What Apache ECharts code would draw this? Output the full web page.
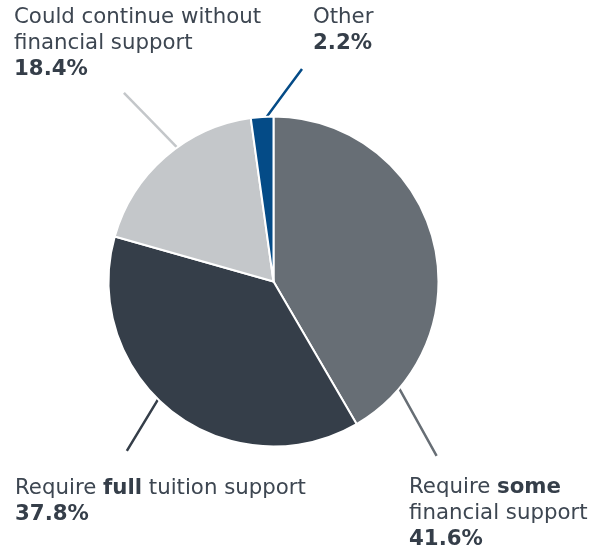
<!DOCTYPE html>
<html>
<head>
<meta charset="utf-8">
<script src="https://cdn.jsdelivr.net/npm/echarts@6/dist/echarts.min.js"></script>
<style>html,body{margin:0;padding:0;background:#fff}#c{width:601px;height:547px}</style>
</head>
<body>
<div id="c"></div>
<script>
// Data
var categories = ['Require some financial support', 'Require full tuition support', 'Could continue without financial support', 'Other'];
var values = [41.6, 37.8, 18.4, 2.2];
var labelLines1 = [['{n|Require }{b|some}', '{n|financial support}'], ['{n|Require }{b|full}{n| tuition support}'], ['{n|Could continue without}', '{n|financial support}'], ['{n|Other}']];
var colors = ['#676e75', '#353e49', '#c4c7ca', '#044b87'];

// Layout (positions / styles)
var CX = 273.5, CY = 281.5, R = 165;
var labelPos = [[409, 474.5], [15, 475.5], [14, 4.5], [313, 4.5]];
var leader = [[130.4, R, 136.9, 238.7], [224.4, R, 220.9, 224], [-35.7, R, -38.4, 240.8], [-2.35, R, 7.64, 214.4]];

function pt(a, r) {
  var t = a * Math.PI / 180;
  return [CX + r * Math.sin(t), CY - r * Math.cos(t)];
}

var chart = echarts.init(document.getElementById('c'), null, {renderer: 'canvas'});
var data = categories.map(function (c, i) {
  return {
    name: c,
    value: values[i],
    itemStyle: {color: colors[i]},
    labelLine: {lineStyle: {color: colors[i]}}
  };
});

chart.setOption({
  animation: false,
  series: [{
    type: 'pie',
    center: [CX, CY],
    radius: [0, R],
    startAngle: 90,
    clockwise: true,
    avoidLabelOverlap: false,
    itemStyle: {borderColor: '#fff', borderWidth: 2},
    label: {
      show: true,
      position: 'outside',
      formatter: function (p) {
        var i = p.dataIndex;
        return labelLines1[i].join('\n') + '\n{b|' + values[i].toFixed(1) + '%}';
      },
      rich: {
        n: {fontFamily: 'DejaVu Sans', fontSize: 21.3, color: '#3d4651', lineHeight: 26},
        b: {fontFamily: 'DejaVu Sans', fontSize: 21.3, fontWeight: 'bold', color: '#353e49', lineHeight: 26}
      }
    },
    labelLine: {show: true, length: 10, length2: 0, lineStyle: {width: 2.5}},
    labelLayout: function (p) {
      var i = p.dataIndex;
      var L = leader[i];
      var a = pt(L[0], L[1]), b = pt(L[2], L[3]);
      return {
        x: labelPos[i][0],
        y: labelPos[i][1],
        align: 'left',
        verticalAlign: 'top',
        labelLinePoints: [a, [(a[0] + b[0]) / 2, (a[1] + b[1]) / 2], b]
      };
    },
    emphasis: {disabled: true},
    data: data
  }]
});
</script>
</body>
</html>
